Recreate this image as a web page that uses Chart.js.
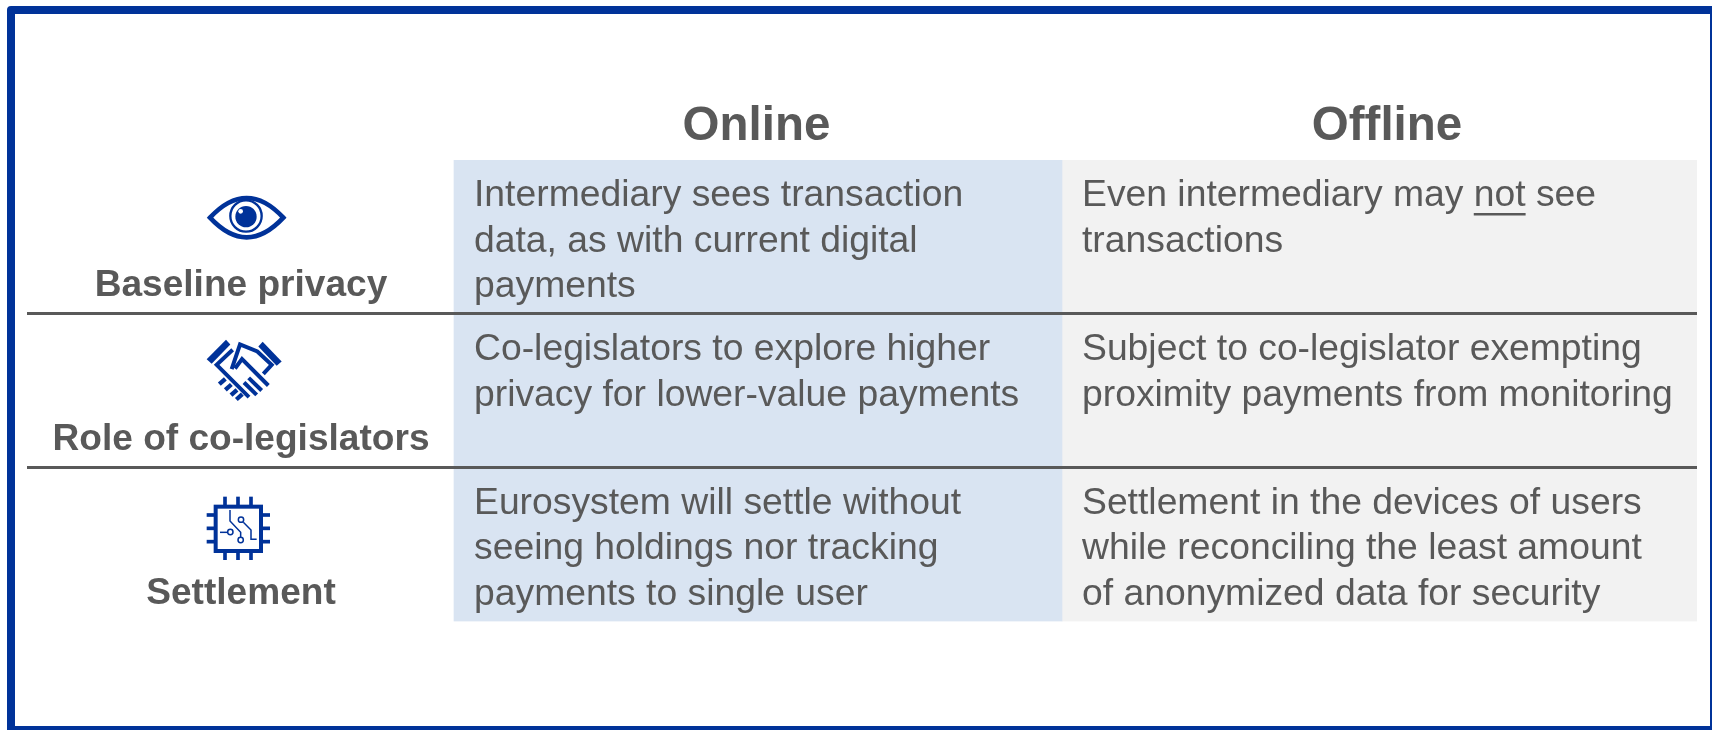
<!DOCTYPE html>
<html>
<head>
<meta charset="utf-8">
<title>Online and offline privacy</title>
<script src="https://cdn.jsdelivr.net/npm/chart.js@4"></script>
<style>
    html, body { margin: 0; padding: 0; background: #fff; overflow: hidden; }
    #frame {
        position: absolute; left: 7px; top: 6px; width: 1711px; height: 728px;
        box-sizing: border-box; border: 8px solid #003299; border-radius: 4px;
    }
    #chart { position: absolute; left: 0; top: 0; }
</style>
</head>
<body>
<div id="frame"></div>
<canvas id="chart" width="1712" height="730"></canvas>
<script>
// Datos de la tabla
const rowLabels = ['Baseline privacy', 'Role of co-legislators', 'Settlement'];
const columnLabels = ['Online', 'Offline'];
const onlineText = [
    ['Intermediary sees transaction', 'data, as with current digital', 'payments'],
    ['Co-legislators to explore higher', 'privacy for lower-value payments'],
    ['Eurosystem will settle without', 'seeing holdings nor tracking', 'payments to single user']
];
const offlineText = [
    ['Even intermediary may not see', 'transactions'],
    ['Subject to co-legislator exempting', 'proximity payments from monitoring'],
    ['Settlement in the devices of users', 'while reconciling the least amount', 'of anonymized data for security']
];

// Estilos y medidas
const FONT = '"Liberation Sans", Arial, sans-serif';
const TEXT_COLOR = '#595959';
const ICON_COLOR = '#003299';
const LABEL_WIDTH = 427;
const ONLINE_WIDTH = 608;
const OFFLINE_WIDTH = 635;
const BODY_SIZE = 37.3;
const LINE_STEP = 45.5;

function strokePath(ctx, points, width) {
    ctx.lineWidth = width;
    ctx.beginPath();
    points.forEach((p, i) => i ? ctx.lineTo(p[0], p[1]) : ctx.moveTo(p[0], p[1]));
    ctx.stroke();
}

function fillPath(ctx, points) {
    ctx.beginPath();
    points.forEach((p, i) => i ? ctx.lineTo(p[0], p[1]) : ctx.moveTo(p[0], p[1]));
    ctx.closePath();
    ctx.fill();
}

// Iconos dibujados a escala 3x, como en el recorte
function drawEye(ctx) {
    ctx.lineWidth = 14;
    ctx.lineJoin = 'miter';
    ctx.beginPath();
    ctx.moveTo(90, 113);
    ctx.quadraticCurveTo(200, -5, 310, 113);
    ctx.quadraticCurveTo(200, 231, 90, 113);
    ctx.closePath();
    ctx.stroke();
    ctx.lineWidth = 7;
    ctx.beginPath();
    ctx.arc(198, 108, 47, 0, Math.PI * 2);
    ctx.stroke();
    ctx.beginPath();
    ctx.arc(198, 110, 32, 0, Math.PI * 2);
    ctx.fill();
    ctx.fillStyle = '#fff';
    ctx.beginPath();
    ctx.arc(182, 94, 7, 0, Math.PI * 2);
    ctx.fill();
}

function drawHandshake(ctx) {
    ctx.lineJoin = 'miter';
    fillPath(ctx, [[80, 118], [138, 60], [151, 74], [95, 132]]);
    fillPath(ctx, [[248, 66], [305, 125], [290, 138], [235, 80]]);
    strokePath(ctx, [[158, 90], [110, 135], [207, 232]], 12);
    strokePath(ctx, [[155, 148], [180, 74], [232, 95], [275, 135], [250, 162]], 12);
    strokePath(ctx, [[165, 146], [186, 118], [265, 197]], 12);
    strokePath(ctx, [[192, 188], [230, 225]], 12);
    strokePath(ctx, [[206, 174], [245, 212]], 12);
    [[127, 185], [145, 202], [162, 218], [178, 231]].forEach(c => {
        strokePath(ctx, [[c[0] - 9, c[1] + 8], [c[0] + 9, c[1] - 8]], 13);
    });
}

function drawChip(ctx) {
    ctx.lineJoin = 'miter';
    ctx.lineWidth = 12;
    ctx.strokeRect(107, 75, 136, 133);
    [135, 174, 213].forEach(x => {
        strokePath(ctx, [[x, 45], [x, 70]], 11);
        strokePath(ctx, [[x, 210], [x, 235]], 11);
    });
    [100, 140, 180].forEach(y => {
        strokePath(ctx, [[80, y], [103, y]], 11);
        strokePath(ctx, [[247, y], [270, y]], 11);
    });
    strokePath(ctx, [[150, 85], [150, 118], [182, 152], [182, 166]], 4.5);
    strokePath(ctx, [[120, 152], [142, 152]], 4.5);
    strokePath(ctx, [[190, 122], [213, 145], [213, 173], [230, 173]], 4.5);
    [[182, 175], [151, 151], [183, 114]].forEach(c => {
        ctx.lineWidth = 4.5;
        ctx.beginPath();
        ctx.arc(c[0], c[1], 8, 0, Math.PI * 2);
        ctx.stroke();
    });
}

const iconDrawers = [drawEye, drawHandshake, drawChip];
const iconOffsets = [[180, 20], [180, 6], [180, 14]];

// Textos e iconos de la tabla, colocados con las escalas del gráfico
const tablePlugin = {
    id: 'tablePlugin',
    afterDraw(chart) {
        const { ctx, chartArea, scales: { x, y } } = chart;
        const rowHeight = chartArea.height / rowLabels.length;
        const onlineLeft = x.getPixelForValue(LABEL_WIDTH);
        const offlineLeft = x.getPixelForValue(LABEL_WIDTH + ONLINE_WIDTH);

        ctx.save();
        ctx.fillStyle = TEXT_COLOR;
        ctx.textBaseline = 'middle';

        // Cabeceras
        ctx.textAlign = 'center';
        ctx.font = 'bold 47.5px ' + FONT;
        ctx.fillText(columnLabels[0], onlineLeft + 302.5, chartArea.top - 33);
        ctx.fillText(columnLabels[1], offlineLeft + 325, chartArea.top - 33);

        rowLabels.forEach((label, i) => {
            const top = y.getPixelForValue(i) - rowHeight / 2;

            ctx.fillStyle = TEXT_COLOR;
            ctx.textAlign = 'center';
            ctx.font = 'bold 37.1px ' + FONT;
            ctx.fillText(label, x.left + 214, top + 126);

            ctx.textAlign = 'left';
            ctx.font = BODY_SIZE + 'px ' + FONT;
            onlineText[i].forEach((line, n) => {
                ctx.fillText(line, onlineLeft + 20, top + 36 + n * LINE_STEP);
            });
            offlineText[i].forEach((line, n) => {
                ctx.fillText(line, offlineLeft + 20, top + 36 + n * LINE_STEP);
            });

            // Icono
            ctx.save();
            ctx.translate(iconOffsets[i][0], top + iconOffsets[i][1]);
            ctx.scale(1 / 3, 1 / 3);
            ctx.strokeStyle = ICON_COLOR;
            ctx.fillStyle = ICON_COLOR;
            iconDrawers[i](ctx);
            ctx.restore();
        });

        // Subrayado de "not"
        ctx.font = BODY_SIZE + 'px ' + FONT;
        const firstLine = offlineText[0][0];
        const start = offlineLeft + 20 + ctx.measureText(firstLine.slice(0, firstLine.indexOf('not'))).width;
        const width = ctx.measureText('not').width;
        const underlineY = y.getPixelForValue(0) - rowHeight / 2 + 36 + 17;
        ctx.fillStyle = TEXT_COLOR;
        ctx.fillRect(start, underlineY, width, 2.5);
        ctx.restore();
    }
};

new Chart(document.getElementById('chart').getContext('2d'), {
    type: 'bar',
    data: {
        labels: rowLabels,
        datasets: [
            {
                label: 'Row labels',
                data: rowLabels.map(() => LABEL_WIDTH),
                backgroundColor: 'rgba(0,0,0,0)'
            },
            {
                label: columnLabels[0],
                data: onlineText.map(() => ONLINE_WIDTH),
                backgroundColor: '#D9E4F2'
            },
            {
                label: columnLabels[1],
                data: offlineText.map(() => OFFLINE_WIDTH),
                backgroundColor: '#F2F2F2'
            }
        ]
    },
    options: {
        indexAxis: 'y',
        responsive: false,
        animation: false,
        events: [],
        layout: { padding: { left: 27, right: 15, top: 160, bottom: 108.5 } },
        datasets: { bar: { barPercentage: 1, categoryPercentage: 1, borderWidth: 0 } },
        plugins: {
            legend: { display: false },
            tooltip: { enabled: false },
            title: { display: false }
        },
        scales: {
            x: {
                stacked: true,
                min: 0,
                max: LABEL_WIDTH + ONLINE_WIDTH + OFFLINE_WIDTH,
                display: false
            },
            y: {
                stacked: true,
                offset: true,
                border: { display: false },
                ticks: { display: false },
                grid: {
                    offset: true,
                    z: 1,
                    drawTicks: false,
                    lineWidth: 3,
                    color: ctx => (ctx.index === 1 || ctx.index === 2 ? TEXT_COLOR : 'rgba(0,0,0,0)')
                }
            }
        }
    },
    plugins: [tablePlugin]
});
</script>
</body>
</html>
